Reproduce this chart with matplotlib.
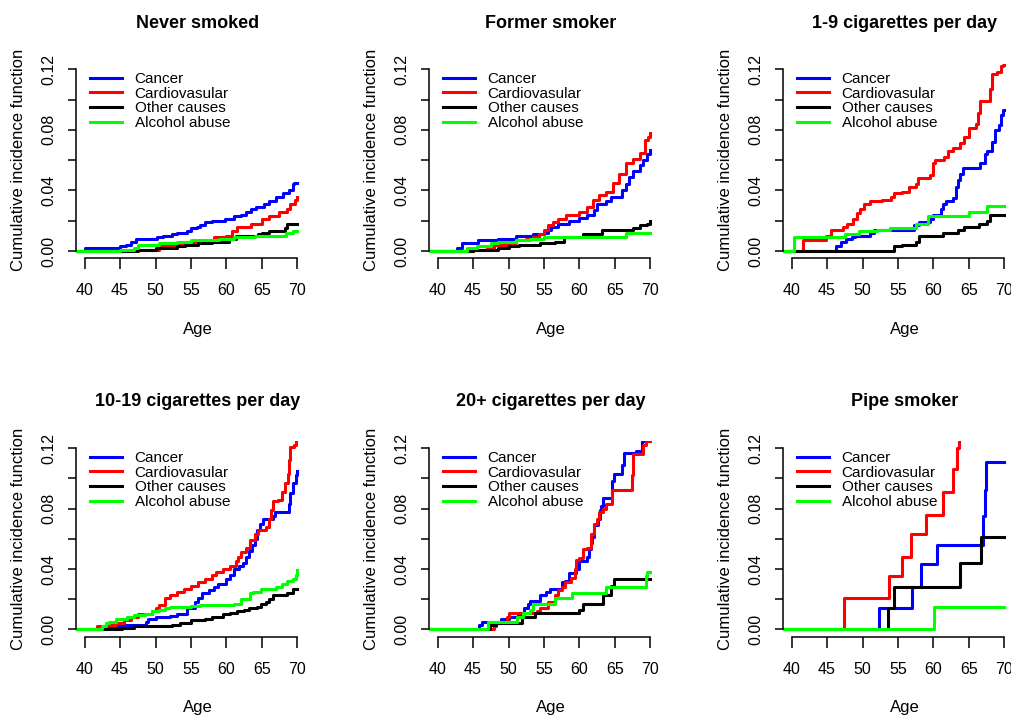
"""Cumulative incidence of death by cause, split by smoking status (R-style panels)."""

import matplotlib

matplotlib.use("Agg")
import matplotlib.pyplot as plt

plt.rcParams["font.family"] = ["Liberation Sans", "DejaVu Sans"]

causes = ["Cancer", "Cardiovasular", "Other causes", "Alcohol abuse"]
cause_colors = ["#0000ff", "#ff0000", "#000000", "#00ff00"]

# (age, cumulative incidence) breakpoints of each step curve
never_cancer = [(38.8, 0), (40.0, 0.002), (45.0, 0.003), (45.8, 0.004), (46.5, 0.006), (47.2, 0.008),
                (50.2, 0.009), (51.0, 0.010), (52.3, 0.011), (53.0, 0.012), (54.5, 0.013), (55.0, 0.015),
                (55.8, 0.016), (56.3, 0.017), (57.0, 0.019), (58.0, 0.020), (59.8, 0.021), (61.0, 0.023),
                (62.0, 0.024), (62.7, 0.026), (63.5, 0.028), (64.2, 0.029), (65.3, 0.031), (66.0, 0.033),
                (67.0, 0.036), (68.0, 0.038), (68.8, 0.040), (69.3, 0.044), (69.5, 0.045), (70.0, 0.045)]
never_cardio = [(38.8, 0), (47.0, 0.001), (50.5, 0.003), (53.0, 0.004), (55.0, 0.005), (57.0, 0.007),
                (58.3, 0.009), (60.0, 0.010), (60.8, 0.013), (61.5, 0.016), (63.5, 0.018), (65.0, 0.021),
                (66.0, 0.023), (67.4, 0.026), (68.5, 0.028), (69.0, 0.031), (69.7, 0.034), (70.0, 0.036)]
never_other = [(38.8, 0), (47.5, 0.001), (50.0, 0.002), (53.0, 0.003), (54.2, 0.004), (56.0, 0.005),
               (58.0, 0.006), (60.3, 0.008), (61.3, 0.010), (64.5, 0.011), (65.0, 0.012), (66.0, 0.013),
               (68.2, 0.015), (68.5, 0.018), (70.0, 0.018)]
never_alcohol = [(38.8, 0), (45.0, 0.001), (47.0, 0.002), (47.6, 0.004), (50.5, 0.005), (53.0, 0.006),
                 (55.0, 0.007), (57.0, 0.0075), (59.0, 0.008), (61.0, 0.009), (64.0, 0.010), (68.4, 0.012),
                 (69.3, 0.013), (70.0, 0.013)]

former_cancer = [(38.8, 0), (42.8, 0.002), (43.5, 0.005), (45.7, 0.007), (48.5, 0.008), (51.0, 0.010),
                 (53.5, 0.011), (55.0, 0.012), (55.5, 0.014), (56.0, 0.016), (57.0, 0.018), (58.5, 0.020),
                 (60.0, 0.022), (61.0, 0.024), (62.0, 0.027), (62.5, 0.031), (63.8, 0.033), (64.5, 0.036),
                 (66.0, 0.040), (66.5, 0.044), (67.0, 0.049), (67.5, 0.053), (68.5, 0.057), (69.0, 0.060),
                 (69.5, 0.064), (69.9, 0.067), (70.0, 0.067)]
former_cardio = [(38.8, 0), (45.0, 0.001), (47.0, 0.002), (48.0, 0.004), (50.0, 0.005), (51.0, 0.007),
                 (52.5, 0.008), (53.5, 0.009), (54.3, 0.011), (55.0, 0.014), (55.6, 0.017), (56.2, 0.019),
                 (57.0, 0.021), (58.1, 0.024), (60.0, 0.026), (61.0, 0.029), (61.9, 0.034), (62.8, 0.037),
                 (63.8, 0.039), (64.7, 0.045), (65.6, 0.051), (66.6, 0.058), (67.5, 0.061), (68.5, 0.065),
                 (69.2, 0.073), (69.6, 0.075), (70.0, 0.078)]
former_other = [(38.8, 0), (45.0, 0.0005), (47.5, 0.001), (48.5, 0.002), (50.0, 0.003), (51.5, 0.004),
                (54.5, 0.005), (56.5, 0.006), (57.8, 0.009), (60.5, 0.011), (63.2, 0.014), (67.5, 0.015),
                (68.5, 0.017), (69.5, 0.018), (70.0, 0.020)]
former_alcohol = [(38.8, 0), (44.1, 0.002), (45.5, 0.003), (47.5, 0.005), (48.5, 0.006), (51.0, 0.007),
                  (53.0, 0.008), (55.0, 0.009), (57.0, 0.0095), (66.5, 0.012), (70.0, 0.012)]

light_cancer = [(38.8, 0), (46.2, 0.003), (47.0, 0.006), (47.7, 0.008), (48.5, 0.009), (49.0, 0.010),
                (51.0, 0.012), (51.6, 0.014), (57.3, 0.017), (58.0, 0.019), (59.5, 0.021), (60.0, 0.024),
                (61.0, 0.028), (61.3, 0.031), (61.8, 0.033), (62.8, 0.035), (63.1, 0.042), (63.5, 0.047),
                (63.8, 0.051), (64.2, 0.055), (66.6, 0.058), (67.2, 0.064), (67.5, 0.066), (68.3, 0.072),
                (68.7, 0.080), (69.2, 0.083), (69.5, 0.090), (69.8, 0.093), (70.0, 0.093)]
light_cardio = [(38.8, 0), (41.6, 0.007), (44.8, 0.010), (45.5, 0.014), (47.2, 0.016), (47.8, 0.018),
                (48.7, 0.021), (49.2, 0.025), (49.6, 0.028), (50.2, 0.031), (51.0, 0.033), (52.8, 0.034),
                (54.0, 0.036), (54.5, 0.038), (55.5, 0.039), (56.5, 0.042), (57.5, 0.044), (57.8, 0.048),
                (59.5, 0.050), (60.0, 0.058), (60.2, 0.060), (61.5, 0.062), (62.0, 0.066), (62.8, 0.068),
                (63.7, 0.071), (64.3, 0.075), (65.0, 0.081), (66.0, 0.084), (66.2, 0.091), (66.6, 0.099),
                (68.0, 0.107), (68.2, 0.117), (69.0, 0.118), (69.5, 0.122), (69.8, 0.123), (70.0, 0.123)]
light_other = [(38.8, 0), (54.4, 0.003), (55.5, 0.004), (57.5, 0.006), (58.0, 0.010), (61.3, 0.012),
               (63.5, 0.014), (64.3, 0.016), (66.4, 0.018), (67.5, 0.020), (68.0, 0.024), (70.0, 0.024)]
light_alcohol = [(38.8, 0), (40.3, 0.009), (47.5, 0.011), (49.5, 0.013), (52.0, 0.014), (53.9, 0.015),
                 (57.5, 0.018), (59.2, 0.023), (65.0, 0.026), (67.5, 0.030), (70.0, 0.030)]

moderate_cancer = [(38.8, 0), (43.0, 0.001), (44.5, 0.002), (45.3, 0.003), (48.6, 0.005), (49.0, 0.007),
                   (50.0, 0.008), (52.0, 0.009), (53.0, 0.010), (54.5, 0.014), (55.5, 0.018), (56.0, 0.021),
                   (56.5, 0.024), (57.5, 0.026), (58.2, 0.028), (58.8, 0.030), (60.0, 0.033), (60.5, 0.036),
                   (61.0, 0.040), (61.7, 0.042), (62.3, 0.044), (62.7, 0.048), (63.2, 0.052), (63.6, 0.056),
                   (64.0, 0.060), (64.3, 0.066), (64.7, 0.070), (65.2, 0.073), (66.5, 0.075), (66.8, 0.078),
                   (68.8, 0.083), (69.0, 0.090), (69.4, 0.097), (69.8, 0.102), (70.0, 0.105)]
moderate_cardio = [(38.8, 0), (41.8, 0.002), (43.0, 0.003), (44.5, 0.004), (45.5, 0.006), (46.5, 0.008),
                   (47.5, 0.010), (49.5, 0.012), (50.0, 0.014), (50.5, 0.016), (51.3, 0.021), (52.0, 0.023),
                   (53.0, 0.025), (54.0, 0.027), (55.0, 0.029), (56.0, 0.031), (57.0, 0.033), (58.0, 0.036),
                   (58.5, 0.038), (59.5, 0.040), (60.5, 0.042), (61.3, 0.045), (61.6, 0.048), (62.0, 0.051),
                   (62.8, 0.054), (63.3, 0.059), (64.0, 0.063), (64.5, 0.066), (65.5, 0.068), (66.0, 0.073),
                   (66.3, 0.079), (66.5, 0.085), (67.2, 0.086), (67.8, 0.091), (68.2, 0.097), (68.6, 0.103),
                   (68.8, 0.112), (69.0, 0.121), (69.5, 0.122), (69.8, 0.126), (70.0, 0.126)]
moderate_other = [(38.8, 0), (45.3, 0.001), (47.0, 0.002), (52.3, 0.003), (53.5, 0.004), (55.0, 0.006),
                  (57.0, 0.007), (58.0, 0.008), (59.5, 0.010), (60.5, 0.011), (61.5, 0.012), (62.5, 0.013),
                  (63.2, 0.014), (64.3, 0.015), (64.8, 0.017), (65.5, 0.018), (66.0, 0.020), (66.5, 0.023),
                  (68.5, 0.024), (69.3, 0.027), (70.0, 0.027)]
moderate_alcohol = [(38.8, 0), (42.5, 0.002), (43.0, 0.004), (43.5, 0.005), (44.5, 0.007), (46.0, 0.008),
                    (47.0, 0.0095), (48.5, 0.010), (49.5, 0.012), (50.5, 0.013), (51.3, 0.014), (52.0, 0.015),
                    (55.0, 0.0155), (56.3, 0.016), (61.0, 0.017), (62.0, 0.020), (63.3, 0.024), (63.8, 0.025),
                    (64.8, 0.027), (67.0, 0.028), (67.8, 0.030), (68.5, 0.032), (69.4, 0.033), (69.8, 0.036),
                    (70.0, 0.039)]

heavy_cancer = [(38.8, 0), (45.8, 0.003), (46.3, 0.005), (49.0, 0.007), (50.0, 0.008), (51.3, 0.010),
                (52.2, 0.014), (52.7, 0.017), (53.0, 0.019), (54.5, 0.023), (55.3, 0.025), (55.8, 0.027),
                (57.5, 0.031), (58.0, 0.032), (58.5, 0.037), (59.5, 0.040), (60.0, 0.045), (61.0, 0.048),
                (61.3, 0.053), (61.6, 0.057), (61.8, 0.061), (62.0, 0.069), (62.6, 0.073), (62.9, 0.079),
                (63.0, 0.082), (63.3, 0.087), (64.6, 0.098), (64.9, 0.103), (66.0, 0.109), (66.2, 0.117),
                (68.0, 0.118), (68.8, 0.125), (69.0, 0.125)]
heavy_cardio = [(38.8, 0), (48.0, 0.002), (48.3, 0.004), (49.8, 0.008), (50.0, 0.011), (54.0, 0.012),
                (54.5, 0.014), (55.5, 0.018), (56.5, 0.023), (57.0, 0.026), (57.5, 0.028), (58.0, 0.031),
                (58.8, 0.034), (59.3, 0.040), (59.5, 0.046), (60.0, 0.047), (60.5, 0.053), (61.0, 0.054),
                (61.6, 0.063), (62.0, 0.070), (62.4, 0.073), (62.8, 0.078), (63.3, 0.080), (63.7, 0.083),
                (64.6, 0.092), (67.4, 0.102), (67.6, 0.116), (68.9, 0.122), (69.3, 0.125), (70.0, 0.125)]
heavy_other = [(38.8, 0), (47.4, 0.003), (48.3, 0.004), (51.9, 0.008), (53.7, 0.011), (60.0, 0.013),
               (60.5, 0.017), (63.3, 0.023), (64.5, 0.029), (64.8, 0.033), (70.0, 0.033)]
heavy_alcohol = [(38.8, 0), (47.1, 0.005), (51.2, 0.008), (52.0, 0.011), (53.0, 0.013), (53.5, 0.017),
                 (56.6, 0.021), (59.0, 0.024), (63.8, 0.028), (69.3, 0.035), (69.5, 0.038), (70.0, 0.038)]

pipe_cancer = [(38.8, 0), (52.3, 0.014), (57.0, 0.028), (58.2, 0.043), (60.5, 0.056), (67.0, 0.075),
               (67.2, 0.092), (67.4, 0.111), (70.0, 0.111)]
pipe_cardio = [(38.8, 0), (47.4, 0.021), (53.7, 0.035), (55.6, 0.048), (56.9, 0.063), (58.9, 0.076),
               (61.4, 0.091), (62.75, 0.106), (63.3, 0.120), (63.6, 0.134), (70.0, 0.134)]
pipe_other = [(38.8, 0), (53.6, 0.014), (54.5, 0.028), (63.7, 0.044), (66.7, 0.061), (70.0, 0.061)]
pipe_alcohol = [(38.8, 0), (60.1, 0.015), (70.0, 0.015)]

panel_titles = ["Never smoked", "Former smoker", "1-9 cigarettes per day",
                "10-19 cigarettes per day", "20+ cigarettes per day", "Pipe smoker"]
panel_curves = [
    [never_cancer, never_cardio, never_other, never_alcohol],
    [former_cancer, former_cardio, former_other, former_alcohol],
    [light_cancer, light_cardio, light_other, light_alcohol],
    [moderate_cancer, moderate_cardio, moderate_other, moderate_alcohol],
    [heavy_cancer, heavy_cardio, heavy_other, heavy_alcohol],
    [pipe_cancer, pipe_cardio, pipe_other, pipe_alcohol],
]

W, H = 1011, 715
col_left = [76, 429, 783]     # pixel x of the y axis in each column
row_box = [(62, 258.3), (441, 636.5)]  # pixel top/bottom of the plot region per row
box_w = 230

fig = plt.figure(figsize=(W / 100, H / 100), dpi=100)

for i, (title, curves) in enumerate(zip(panel_titles, panel_curves)):
    r, c = divmod(i, 3)
    top, bottom = row_box[r]
    ax = fig.add_axes([col_left[c] / W, (H - bottom) / H, box_w / W, (bottom - top) / H])

    for curve, color, label in zip(curves, cause_colors, causes):
        ages = [p[0] for p in curve]
        cif = [p[1] for p in curve]
        ax.step(ages, cif, where="post", color=color, lw=2.2, label=label)

    ax.set_xlim(38.8, 71.2)
    ax.set_ylim(-0.0048, 0.1248)
    for side in ("top", "right"):
        ax.spines[side].set_visible(False)
    ax.spines["left"].set_bounds(0, 0.12)
    ax.spines["bottom"].set_bounds(40, 70)
    for side in ("left", "bottom"):
        ax.spines[side].set_linewidth(1.1)

    ax.set_xticks([40, 45, 50, 55, 60, 65, 70])
    ax.set_yticks([0, 0.04, 0.08, 0.12], ["0.00", "0.04", "0.08", "0.12"])
    ax.set_yticks([0.02, 0.06, 0.10], minor=True)
    ax.tick_params(axis="x", length=8, width=1.1, pad=10, labelsize=11.5)
    ax.tick_params(axis="y", which="both", length=5.8, width=1.1, pad=8, labelsize=11.5)
    for lab in ax.get_yticklabels():
        lab.set_rotation(90)
        lab.set_va("center")

    ax.text(0.528, 1 + 39 / (bottom - top), title, transform=ax.transAxes,
            ha="center", va="center", fontsize=13, fontweight="bold")
    ax.text(0.528, -0.362, "Age", transform=ax.transAxes, ha="center", va="center", fontsize=12)
    ax.text(-0.252, 0.5, "Cumulative incidence function", transform=ax.transAxes,
            ha="center", va="center", rotation=90, fontsize=12)

    ax.legend(loc="upper left", bbox_to_anchor=(0.062, 0.948), frameon=False, fontsize=11,
              handlelength=2.1, handletextpad=0.8, labelspacing=0.04, borderpad=0, borderaxespad=0)

fig.savefig("out.png", dpi=100)
